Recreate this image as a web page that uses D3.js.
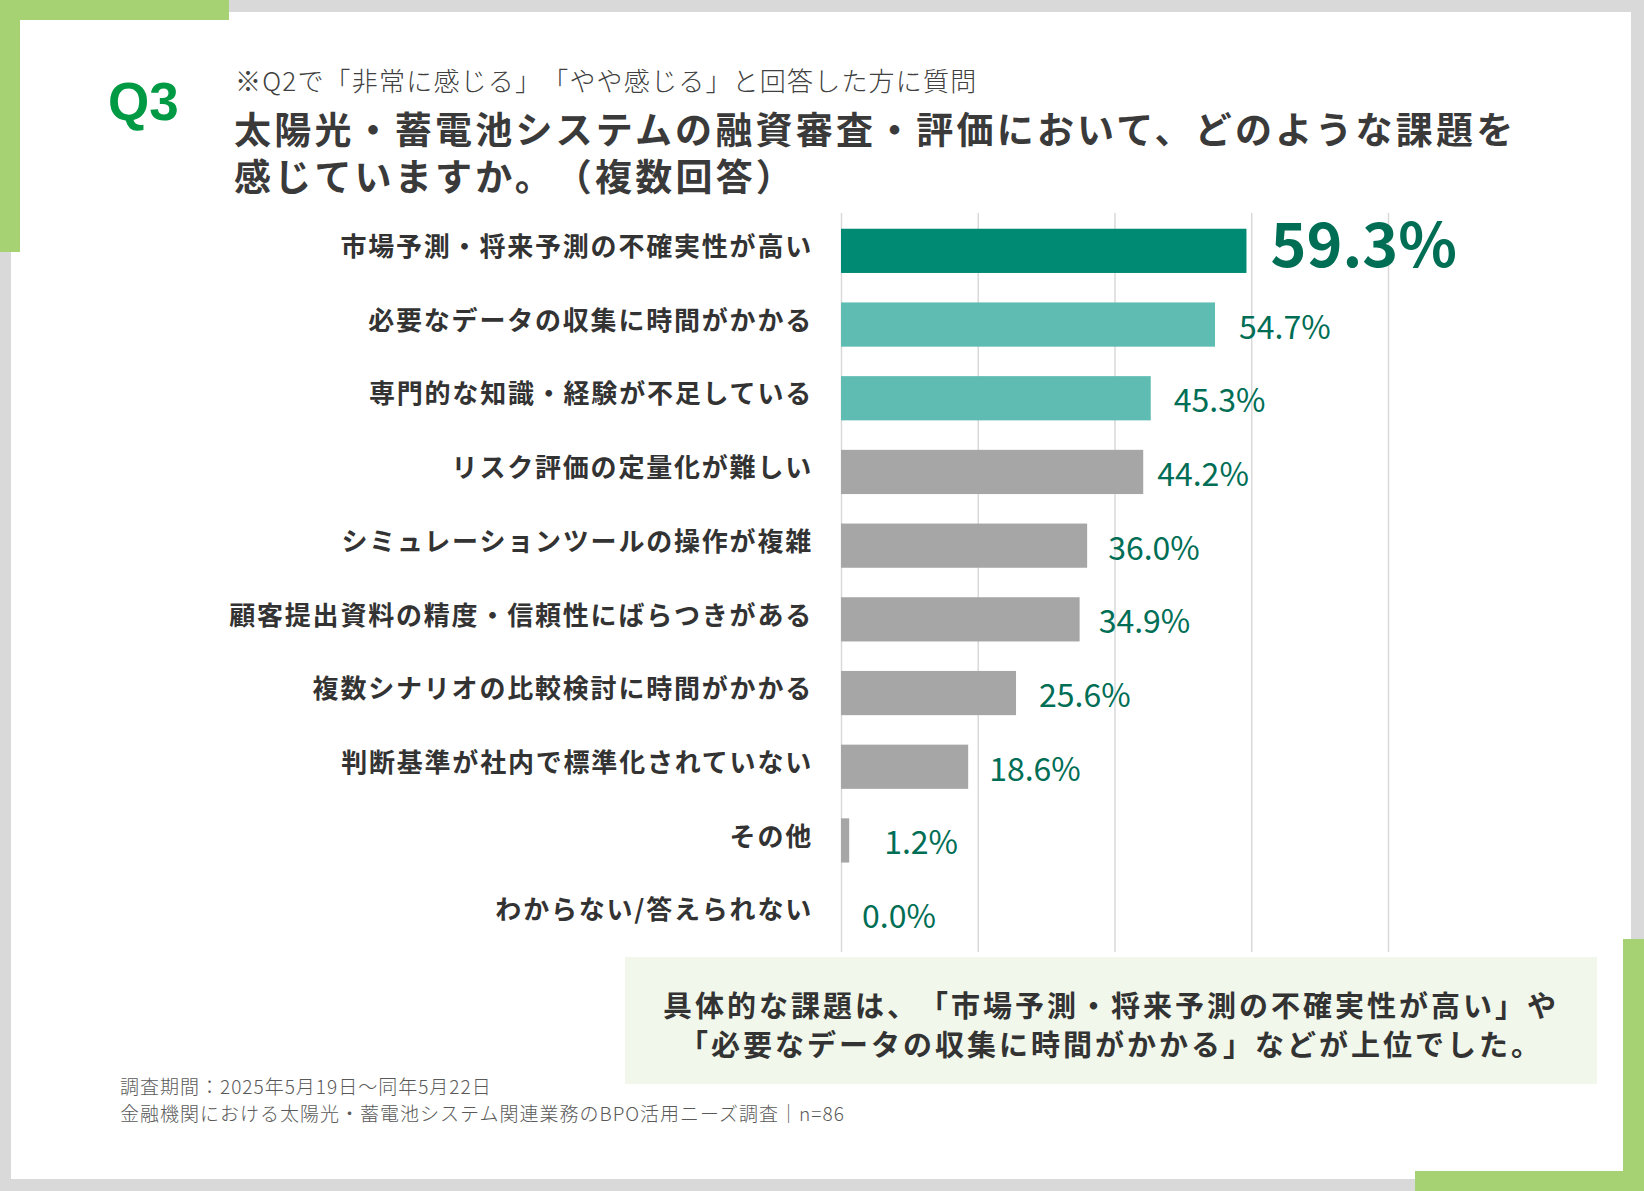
<!DOCTYPE html>
<html>
<head>
  <meta charset="utf-8">
  <script src="https://d3js.org/d3.v7.min.js"></script>
  <style>
    body { margin: 0; background: #fff; }
    svg text { font-family: "Noto Sans CJK JP", "Noto Sans", sans-serif; text-spacing-trim: space-all; }
  </style>
</head>
<body>
  <div id="chart"></div>
  <script>
    // data
    var categories = [
      "市場予測・将来予測の不確実性が高い",
      "必要なデータの収集に時間がかかる",
      "専門的な知識・経験が不足している",
      "リスク評価の定量化が難しい",
      "シミュレーションツールの操作が複雑",
      "顧客提出資料の精度・信頼性にばらつきがある",
      "複数シナリオの比較検討に時間がかかる",
      "判断基準が社内で標準化されていない",
      "その他",
      "わからない/答えられない"
    ];
    var values = [59.3, 54.7, 45.3, 44.2, 36.0, 34.9, 25.6, 18.6, 1.2, 0.0];
    var xTicks = [0, 20, 40, 60, 80];
    var subtitle = "※Q2で「非常に感じる」「やや感じる」と回答した方に質問";
    var titleLines = [
      "太陽光・蓄電池システムの融資審査・評価において、どのような課題を",
      "感じていますか。（複数回答）"
    ];
    var summaryLines = [
      "具体的な課題は、「市場予測・将来予測の不確実性が高い」や",
      "「必要なデータの収集に時間がかかる」などが上位でした。"
    ];
    var notes = [
      "調査期間：2025年5月19日～同年5月22日",
      "金融機関における太陽光・蓄電池システム関連業務のBPO活用ニーズ調査｜n=86"
    ];

    // gap between bar end and its label (labels were placed by hand in the original)
    var labelGap = [24, 24, 23, 14, 21, 19, 23, 21, 35, 21];

    var W = 1644, H = 1191;
    var svg = d3.select("#chart").append("svg")
      .attr("width", W)
      .attr("height", H);

    // frame
    svg.append("rect").attr("width", W).attr("height", H).attr("fill", "#d9d9d9");
    svg.append("rect").attr("x", 11).attr("y", 12).attr("width", 1620).attr("height", 1167).attr("fill", "#fff");
    var green = "#a6d274";
    svg.append("rect").attr("x", 0).attr("y", 0).attr("width", 229).attr("height", 20).attr("fill", green);
    svg.append("rect").attr("x", 0).attr("y", 0).attr("width", 20).attr("height", 252).attr("fill", green);
    svg.append("rect").attr("x", 1623).attr("y", 939).attr("width", 21).attr("height", 252).attr("fill", green);
    svg.append("rect").attr("x", 1415).attr("y", 1171).attr("width", 229).attr("height", 20).attr("fill", green);

    // header
    svg.append("text")
      .attr("x", 108).attr("y", 120)
      .style("font-family", "'Liberation Sans', Arial, sans-serif")
      .style("font-weight", "bold")
      .style("font-size", "53px")
      .attr("fill", "#009944")
      .text("Q3");
    svg.append("text")
      .attr("x", 235).attr("y", 91)
      .style("font-size", "26px")
      .style("font-weight", "300")
      .style("letter-spacing", "1.2px")
      .attr("fill", "#404040")
      .text(subtitle);
    svg.selectAll(".title")
      .data(titleLines)
      .enter()
      .append("text")
      .attr("x", 234)
      .attr("y", function (d, i) { return 144 + i * 47; })
      .style("font-size", "37px")
      .style("font-weight", "bold")
      .style("letter-spacing", "3.2px")
      .attr("fill", "#3a3a3a")
      .text(function (d) { return d; });

    // scales
    var x = d3.scaleLinear()
      .domain([0, 80])
      .range([841, 1388]);
    var y = d3.scaleBand()
      .domain(categories)
      .range([214, 951])
      .paddingInner(0.4)
      .paddingOuter(0.2);

    // gridlines
    svg.append("g")
      .attr("transform", "translate(0,213)")
      .call(d3.axisBottom(x).tickValues(xTicks).tickSize(739).tickFormat(""))
      .call(function (g) { g.select(".domain").remove(); })
      .selectAll("line")
      .attr("stroke", "#d9d9d9")
      .attr("stroke-width", 1.5);

    // bars
    function barColor(d, i) {
      if (i === 0) return "#008a73";
      if (i < 3) return "#5ebcb2";
      return "#a6a6a6";
    }
    svg.selectAll(".bar")
      .data(values)
      .enter()
      .append("rect")
      .attr("x", x(0))
      .attr("y", function (d, i) { return y(categories[i]); })
      .attr("width", function (d) { return x(d) - x(0); })
      .attr("height", y.bandwidth())
      .attr("fill", barColor);

    // category labels
    svg.append("g")
      .attr("transform", "translate(841,0)")
      .call(d3.axisLeft(y).tickSize(0).tickPadding(28))
      .call(function (g) { g.select(".domain").remove(); })
      .selectAll("text")
      .attr("dy", "0.2em")
      .style("font-family", "'Noto Sans CJK JP', sans-serif")
      .style("font-size", "26px")
      .style("font-weight", "bold")
      .style("letter-spacing", "1.8px")
      .attr("fill", "#333333");

    // value labels
    svg.selectAll(".val")
      .data(values)
      .enter()
      .append("text")
      .attr("x", function (d, i) { return x(d) + labelGap[i]; })
      .attr("y", function (d, i) { return y(categories[i]) + y.bandwidth() / 2 + (i === 0 ? -10 : 0); })
      .attr("dominant-baseline", "central")
      .style("font-size", function (d, i) { return i === 0 ? "61px" : "32px"; })
      .style("font-weight", function (d, i) { return i === 0 ? "bold" : "normal"; })
      .attr("fill", "#006e55")
      .text(function (d) { return d.toFixed(1) + "%"; });

    // summary box
    svg.append("rect")
      .attr("x", 625).attr("y", 957)
      .attr("width", 972).attr("height", 127)
      .attr("fill", "#f1f7ea");
    svg.selectAll(".summary")
      .data(summaryLines)
      .enter()
      .append("text")
      .attr("x", 1111)
      .attr("y", function (d, i) { return 1004 + i * 39; })
      .attr("text-anchor", "middle")
      .attr("dominant-baseline", "central")
      .style("font-size", "29px")
      .style("font-weight", "bold")
      .style("letter-spacing", "3px")
      .attr("fill", "#333333")
      .text(function (d) { return d; });

    // footnotes
    svg.selectAll(".note")
      .data(notes)
      .enter()
      .append("text")
      .attr("x", 120)
      .attr("y", function (d, i) { return 1085 + i * 27; })
      .attr("dominant-baseline", "central")
      .style("font-size", "19px")
      .style("font-weight", "300")
      .style("letter-spacing", "1px")
      .attr("fill", "#595959")
      .text(function (d) { return d; });
  </script>
</body>
</html>
